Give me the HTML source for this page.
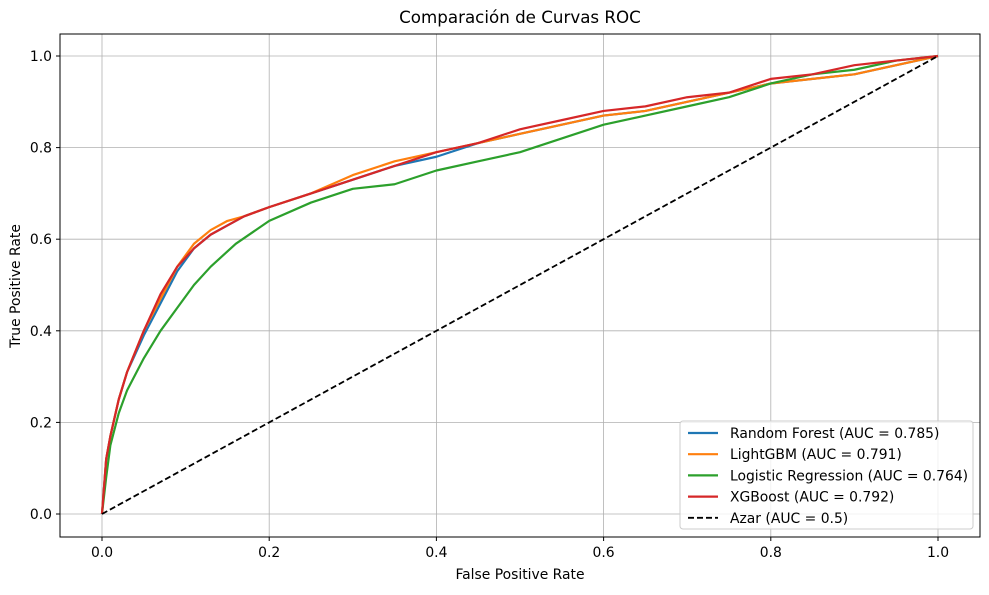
<!DOCTYPE html>
<html><head><meta charset="utf-8"><style>
body{margin:0;background:#fff;}
svg{font-family:"DejaVu Sans","Liberation Sans",sans-serif;}
</style></head><body>
<svg id="chart" width="989" height="590">
<g id="grid"></g>
<g id="series"></g>
<rect x="60" y="34" width="920" height="503" fill="none" stroke="#000" stroke-width="1"/>
<g id="ticks"></g>
<text x="520" y="23" text-anchor="middle" font-size="16.7">Comparación de Curvas ROC</text>
<text x="520" y="579" text-anchor="middle" font-size="13.9">False Positive Rate</text>
<text x="20" y="286" text-anchor="middle" font-size="13.9" transform="rotate(-90 20 286)">True Positive Rate</text>
<g id="legend"></g>
</svg>
<script>
const ticks=[0,0.2,0.4,0.6,0.8,1.0];
const tickLabels=["0.0","0.2","0.4","0.6","0.8","1.0"];
const seriesNames=["Random Forest (AUC = 0.785)","LightGBM (AUC = 0.791)","Logistic Regression (AUC = 0.764)","XGBoost (AUC = 0.792)","Azar (AUC = 0.5)"];
const rfX=[0,0.005,0.01,0.02,0.03,0.05,0.07,0.09,0.11,0.13,0.15,0.17,0.2,0.25,0.3,0.35,0.4,0.45,0.5,0.55,0.6,0.65,0.7,0.75,0.8,0.85,0.9,0.95,1];
const rfY=[0,0.12,0.17,0.25,0.31,0.39,0.46,0.53,0.58,0.61,0.63,0.65,0.67,0.70,0.73,0.76,0.78,0.81,0.83,0.85,0.87,0.88,0.90,0.92,0.94,0.95,0.96,0.98,1];
const lgbX=[0,0.005,0.01,0.02,0.03,0.05,0.07,0.09,0.11,0.13,0.15,0.17,0.2,0.25,0.3,0.35,0.4,0.45,0.5,0.55,0.6,0.65,0.7,0.75,0.8,0.85,0.9,0.95,1];
const lgbY=[0,0.12,0.17,0.25,0.31,0.40,0.47,0.54,0.59,0.62,0.64,0.65,0.67,0.70,0.74,0.77,0.79,0.81,0.83,0.85,0.87,0.88,0.90,0.92,0.94,0.95,0.96,0.98,1];
const lrX=[0,0.005,0.01,0.02,0.03,0.05,0.07,0.09,0.11,0.13,0.16,0.2,0.25,0.3,0.35,0.4,0.45,0.5,0.55,0.6,0.65,0.7,0.75,0.8,0.85,0.9,0.95,1];
const lrY=[0,0.08,0.15,0.22,0.27,0.34,0.40,0.45,0.50,0.54,0.59,0.64,0.68,0.71,0.72,0.75,0.77,0.79,0.82,0.85,0.87,0.89,0.91,0.94,0.96,0.97,0.99,1];
const xgbX=[0,0.005,0.01,0.02,0.03,0.05,0.07,0.09,0.11,0.13,0.15,0.17,0.2,0.25,0.3,0.35,0.4,0.45,0.5,0.55,0.6,0.65,0.7,0.75,0.8,0.85,0.9,0.95,1];
const xgbY=[0,0.12,0.17,0.25,0.31,0.40,0.48,0.54,0.58,0.61,0.63,0.65,0.67,0.70,0.73,0.76,0.79,0.81,0.84,0.86,0.88,0.89,0.91,0.92,0.95,0.96,0.98,0.99,1];
const azarX=[0,1];
const azarY=[0,1];
const colors=["#1f77b4","#ff7f0e","#2ca02c","#d62728","#000"];
const NS="http://www.w3.org/2000/svg";
const sx=v=>102+v*836, sy=v=>514-v*458;
function mk(tag,attrs,parent){const e=document.createElementNS(NS,tag);for(const k in attrs)e.setAttribute(k,attrs[k]);parent.appendChild(e);return e;}
const grid=document.getElementById('grid'),tk=document.getElementById('ticks');
ticks.forEach((t,i)=>{
 let g=mk('line',{x1:sx(t),x2:sx(t),y1:34,y2:537,stroke:'#b0b0b0','stroke-width':0.8},grid);
 
 
 g=mk('line',{x1:60,x2:980,y1:sy(t),y2:sy(t),stroke:'#b0b0b0','stroke-width':0.8},grid);
 
 
 mk('line',{x1:sx(t),x2:sx(t),y1:537,y2:541,stroke:'#000'},tk);
 mk('line',{x1:56,x2:60,y1:sy(t),y2:sy(t),stroke:'#000'},tk);
 let l=mk('text',{x:sx(t),y:557,'text-anchor':'middle','font-size':13.9},tk);l.textContent=tickLabels[i];
 
 
 l=mk('text',{x:52,y:sy(t)+5,'text-anchor':'end','font-size':13.9},tk);l.textContent=tickLabels[i];
 
 
});
const ser=document.getElementById('series');
const all=[[rfX,rfY],[lgbX,lgbY],[lrX,lrY],[xgbX,xgbY],[azarX,azarY]];
const names=['random-forest-line','lightgbm-line','logistic-regression-line','xgboost-line','azar-line'];
all.forEach((s,i)=>{
 const pts=s[0].map((x,j)=>sx(x)+','+sy(s[1][j])).join(' ');
 const p=mk('polyline',{points:pts,fill:'none',stroke:colors[i],'stroke-width':i==4?1.8:2.2,'stroke-dasharray':i==4?'6,3':'none','stroke-linejoin':'round'},ser);
 
 
});
const lg=document.getElementById('legend');
const box=mk('rect',{x:680,y:421,width:293,height:108,rx:3,fill:'#fff','fill-opacity':0.8,stroke:'#ccc'},lg);


seriesNames.forEach((n,i)=>{
 const y=433+i*21.2;
 mk('line',{x1:688,x2:718,y1:y,y2:y,stroke:colors[i],'stroke-width':i==4?1.8:2.2,'stroke-dasharray':i==4?'6,3':'none'},lg);
 const t=mk('text',{x:730,y:y+5,'font-size':13.9},lg);t.textContent=n;
 
 
});
</script>
</body></html>
